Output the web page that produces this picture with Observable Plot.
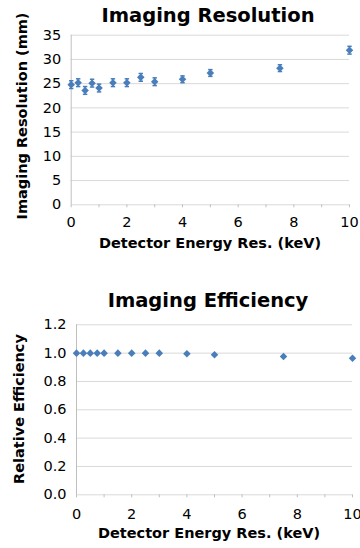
<!DOCTYPE html>
<html>
<head>
<meta charset="utf-8">
<script src="https://cdn.jsdelivr.net/npm/d3@7"></script>
<script src="https://cdn.jsdelivr.net/npm/@observablehq/plot@0.6"></script>
<style>
  html, body { margin: 0; padding: 0; background: #fff; }
  #wrap { position: relative; width: 360px; height: 548px; overflow: hidden; font-family: "DejaVu Sans", Verdana, sans-serif; color: #000; }
  .panel { position: absolute; left: 0; width: 360px; }
  .title { position: absolute; left: 0; width: 416px; text-align: center; font-weight: bold; font-size: 19.5px; line-height: 1; white-space: nowrap; }
  .xtitle { position: absolute; font-weight: bold; font-size: 14.5px; line-height: 1; white-space: nowrap; transform: translate(-50%, -50%); }
  .ytitle { position: absolute; font-weight: bold; font-size: 14.5px; line-height: 1; white-space: nowrap; transform: translate(-50%, -50%) rotate(-90deg); }
</style>
</head>
<body>
<div id="wrap">
  <div class="title" id="t1"></div>
  <div class="panel" id="p1" style="top:0px"></div>
  <div class="xtitle" id="x1"></div>
  <div class="ytitle" id="y1"></div>
  <div class="title" id="t2"></div>
  <div class="panel" id="p2" style="top:280px"></div>
  <div class="xtitle" id="x2"></div>
  <div class="ytitle" id="y2"></div>
</div>
<script>
// ---- data ----
const energyRes = [0, 0.25, 0.5, 0.75, 1, 1.5, 2, 2.5, 3, 4, 5, 7.5, 10];
const resolution = [24.8, 25.2, 23.6, 25.1, 24.1, 25.2, 25.2, 26.3, 25.4, 25.9, 27.2, 28.2, 31.9];
const resolutionErr = [0.8, 0.8, 0.8, 0.8, 0.8, 0.8, 0.8, 0.8, 0.8, 0.7, 0.7, 0.7, 0.8];
const efficiency = [1.0, 1.0, 1.0, 1.0, 1.0, 1.0, 1.0, 1.0, 1.0, 0.995, 0.988, 0.976, 0.964];
const xTicks = [0, 2, 4, 6, 8, 10];
const xMinorTicks = [0, 1, 2, 3, 4, 5, 6, 7, 8, 9, 10];
const resTicks = [0, 5, 10, 15, 20, 25, 30, 35];
const effTicks = [0, 0.2, 0.4, 0.6, 0.8, 1.0, 1.2];
const titles = {
  top: "Imaging Resolution",
  topY: "Imaging Resolution (mm)",
  bottom: "Imaging Efficiency",
  bottomY: "Relative Efficiency",
  x: "Detector Energy Res. (keV)"
};

const blue = "#4A7EBB";
const gridColor = "#D9D9D9";
const axisColor = "#BFBFBF";
const font = "DejaVu Sans, Verdana, sans-serif";

const resData = energyRes.map((x, i) => ({x, y: resolution[i], lo: resolution[i] - resolutionErr[i], hi: resolution[i] + resolutionErr[i]}));
const effData = energyRes.map((x, i) => ({x, y: efficiency[i]}));

// custom horizontal cap symbol for error bars
const capSymbol = {
  draw(context, size) {
    const w = Math.sqrt(size) / 2;
    context.moveTo(-w, 0);
    context.lineTo(w, 0);
  }
};

function panel({height, mt, mb, ml, mr, yDomain, yTicks, yFormat, data, errors}) {
  const marks = [
    Plot.gridY(yTicks, {stroke: gridColor, strokeOpacity: 1, strokeWidth: 1}),
    Plot.ruleX([0], {stroke: axisColor, strokeWidth: 1}),
    Plot.axisX(xMinorTicks, {tickSize: 3, tickFormat: () => "", label: null, stroke: axisColor, strokeOpacity: 1}),
    Plot.axisX(xTicks, {tickSize: 0, tickPadding: errors ? 12 : 14, fontSize: 14.5, fill: "#000", label: null, tickFormat: d3.format("d")}),
    Plot.axisY(yTicks, {tickSize: 0, tickPadding: 10, fontSize: 14.5, fill: "#000", label: null, tickFormat: yFormat})
  ];
  if (errors) {
    marks.push(Plot.ruleX(data, {x: "x", y1: "lo", y2: "hi", stroke: blue, strokeWidth: 1.5}));
    marks.push(Plot.dot(data, {x: "x", y: "lo", symbol: capSymbol, r: 2.5, stroke: blue, strokeWidth: 1.5, fill: "none"}));
    marks.push(Plot.dot(data, {x: "x", y: "hi", symbol: capSymbol, r: 2.5, stroke: blue, strokeWidth: 1.5, fill: "none"}));
  }
  marks.push(Plot.dot(data, {x: "x", y: "y", symbol: "diamond2", r: 3.4, fill: blue, stroke: "none"}));
  return Plot.plot({
    width: 360,
    height,
    marginTop: mt,
    marginBottom: mb,
    marginLeft: ml,
    marginRight: mr,
    style: {fontFamily: font, background: "transparent", color: "#000"},
    x: {domain: [0, 10], label: null},
    y: {domain: yDomain, label: null},
    marks
  });
}

// top panel: plot area x 70.7..349, y 34.7..204.3
document.getElementById("p1").appendChild(panel({
  height: 260, mt: 34.7, mb: 260 - 204.3, ml: 70.7, mr: 11,
  yDomain: [0, 35], yTicks: resTicks, yFormat: d3.format("d"),
  data: resData, errors: true
}));
// bottom panel: plot area x 76..352, y (324.3..494) - 280
document.getElementById("p2").appendChild(panel({
  height: 268, mt: 44.3, mb: 268 - 214.3, ml: 76, mr: 8,
  yDomain: [0, 1.2], yTicks: effTicks, yFormat: d3.format(".1f"),
  data: effData, errors: false
}));

function place(id, text, left, top) {
  const el = document.getElementById(id);
  el.textContent = text;
  el.style.left = left + "px";
  el.style.top = top + "px";
}
const t1 = document.getElementById("t1"); t1.textContent = titles.top; t1.style.top = "6px";
const t2 = document.getElementById("t2"); t2.textContent = titles.bottom; t2.style.top = "291px";
place("x1", titles.x, 210, 242.5);
place("x2", titles.x, 209, 532.5);
place("y1", titles.topY, 22, 116);
place("y2", titles.bottomY, 18.5, 409);
</script>
</body>
</html>
